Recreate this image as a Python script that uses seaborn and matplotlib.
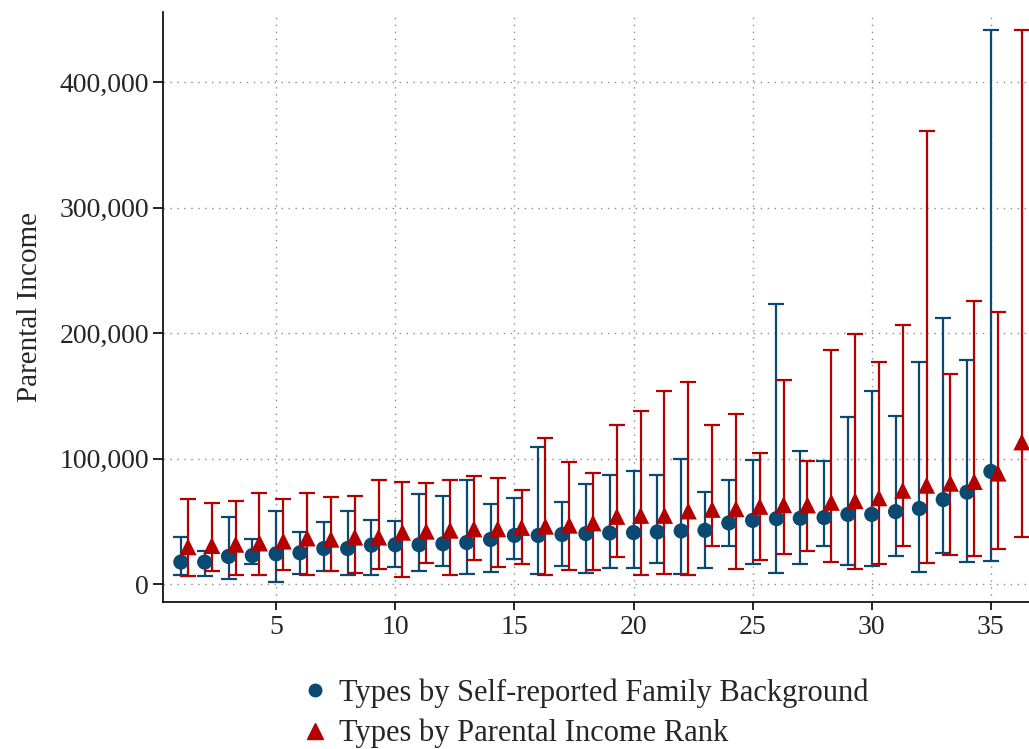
import numpy as np
import pandas as pd
import seaborn as sns
import matplotlib.pyplot as plt
from matplotlib.lines import Line2D

# types by self-reported family background (x = 1..35)
self_types = list(range(1, 36))
self_mean = [17800, 17800, 22300, 23000, 24400, 25200, 28600, 28600, 31300, 31600,
             31600, 32400, 33400, 35800, 39000, 39000, 39800, 40500, 41000, 41300,
             41800, 42600, 43100, 49000, 51000, 52400, 52700, 53300, 55800, 55800,
             58000, 60500, 67600, 73500, 90000]
self_lo = [7400, 6400, 4000, 15900, 2000, 8500, 11000, 7700, 7500, 13800,
           11000, 14300, 8500, 9800, 20400, 8500, 14600, 9300, 12700, 13200,
           17000, 8200, 13200, 31000, 15900, 9300, 16500, 30400, 15500, 14600,
           22300, 9900, 24800, 17700, 18600]
self_hi = [37700, 27000, 53800, 35800, 58400, 42000, 49600, 58400, 51000, 50400,
           72000, 70300, 83300, 63700, 69000, 109800, 66000, 80200, 86800, 90500,
           86800, 100000, 74000, 83300, 99500, 223000, 106300, 98600, 133300, 154000,
           134000, 177000, 212400, 179000, 441900]

# types by parental income rank (drawn at x + 0.3)
rank_types = [t + 0.3 for t in range(1, 37)]
rank_mean = [30000, 31000, 32000, 33000, 34500, 37000, 36000, 37700, 37700, 41600,
             42400, 43200, 44300, 44300, 45400, 46400, 47200, 49000, 54200, 55000,
             55000, 58500, 59800, 60300, 62200, 63500, 63300, 65400, 66700, 69000,
             75000, 79000, 80600, 82000, 88700, 113500]
rank_lo = [6600, 10600, 7700, 7700, 11400, 7200, 11000, 9300, 12500, 6100,
           17000, 7700, 19400, 13800, 16400, 7400, 11400, 11400, 22200, 7400,
           8700, 7900, 31000, 12200, 19600, 24000, 27000, 17700, 12400, 16400,
           31000, 17000, 23300, 22600, 27900, 37800]
rank_hi = [68000, 64700, 66600, 73000, 68000, 73000, 70000, 70800, 82800, 81700,
           81000, 83300, 86700, 85100, 75600, 116700, 97600, 88900, 127000, 137800,
           153700, 161600, 127000, 136000, 104800, 162700, 98600, 186700, 199700, 177000,
           207000, 361000, 167400, 226000, 216700, 441900]

lab_self = 'Types by Self-reported Family Background'
lab_rank = 'Types by Parental Income Rank'
blue = '#0a4a72'
red = '#b50000'

df_self = pd.DataFrame({'type': self_types, 'income': self_mean, 'lo': self_lo, 'hi': self_hi})
df_rank = pd.DataFrame({'type': rank_types, 'income': rank_mean, 'lo': rank_lo, 'hi': rank_hi})

sns.set_theme(style='white')
plt.rcParams['font.family'] = ['Liberation Serif', 'DejaVu Serif']

fig = plt.figure(figsize=(10.29, 7.49), dpi=100)
ax = fig.add_axes([163 / 1029, 1 - 602 / 749, 1 - 163 / 1029, (602 - 12) / 749])

for d, c, mk, sz in [(df_self, blue, 'o', 120), (df_rank, red, '^', 150)]:
    ax.errorbar(d['type'], d['income'],
                yerr=[d['income'] - d['lo'], d['hi'] - d['income']],
                fmt='none', ecolor=c, elinewidth=1.6, capsize=6, capthick=1.6)
    sns.scatterplot(data=d, x='type', y='income', color=c, marker=mk, s=sz,
                    edgecolor='none', linewidth=0, ax=ax, zorder=3)

ax.set_xlim(0.25, 36.6)
ax.set_ylim(-14000, 456000)
ax.set_xticks([5, 10, 15, 20, 25, 30, 35])
ax.set_yticks([0, 100000, 200000, 300000, 400000])
ax.set_yticklabels(['0', '100,000', '200,000', '300,000', '400,000'])
ax.grid(True, linestyle=(0, (1, 4)), color='#8a8a8a', linewidth=1.0)
ax.set_axisbelow(True)

for s in ['top', 'right']:
    ax.spines[s].set_visible(False)
for s in ['left', 'bottom']:
    ax.spines[s].set_color('black')
    ax.spines[s].set_linewidth(1.2)

ax.tick_params(axis='x', direction='out', length=6, width=1.2, color='black',
               labelsize=20, pad=3, bottom=True)
ax.tick_params(axis='y', direction='out', length=7, width=1.2, color='black',
               labelsize=20, pad=3, left=True)
ax.set_xlabel('')
ax.set_ylabel('Parental Income', fontsize=21, labelpad=12)

handles = [Line2D([], [], linestyle='none', marker='o', color=blue, markersize=9),
           Line2D([], [], linestyle='none', marker='^', color=red, markersize=11)]
fig.legend(handles, [lab_self, lab_rank], loc='upper left',
           bbox_to_anchor=(287 / 1029, 1 - 666 / 749), frameon=False,
           fontsize=22, handlelength=1.0, handletextpad=0.3,
           labelspacing=0.36, borderaxespad=0)

fig.savefig('out.png', dpi=100)
